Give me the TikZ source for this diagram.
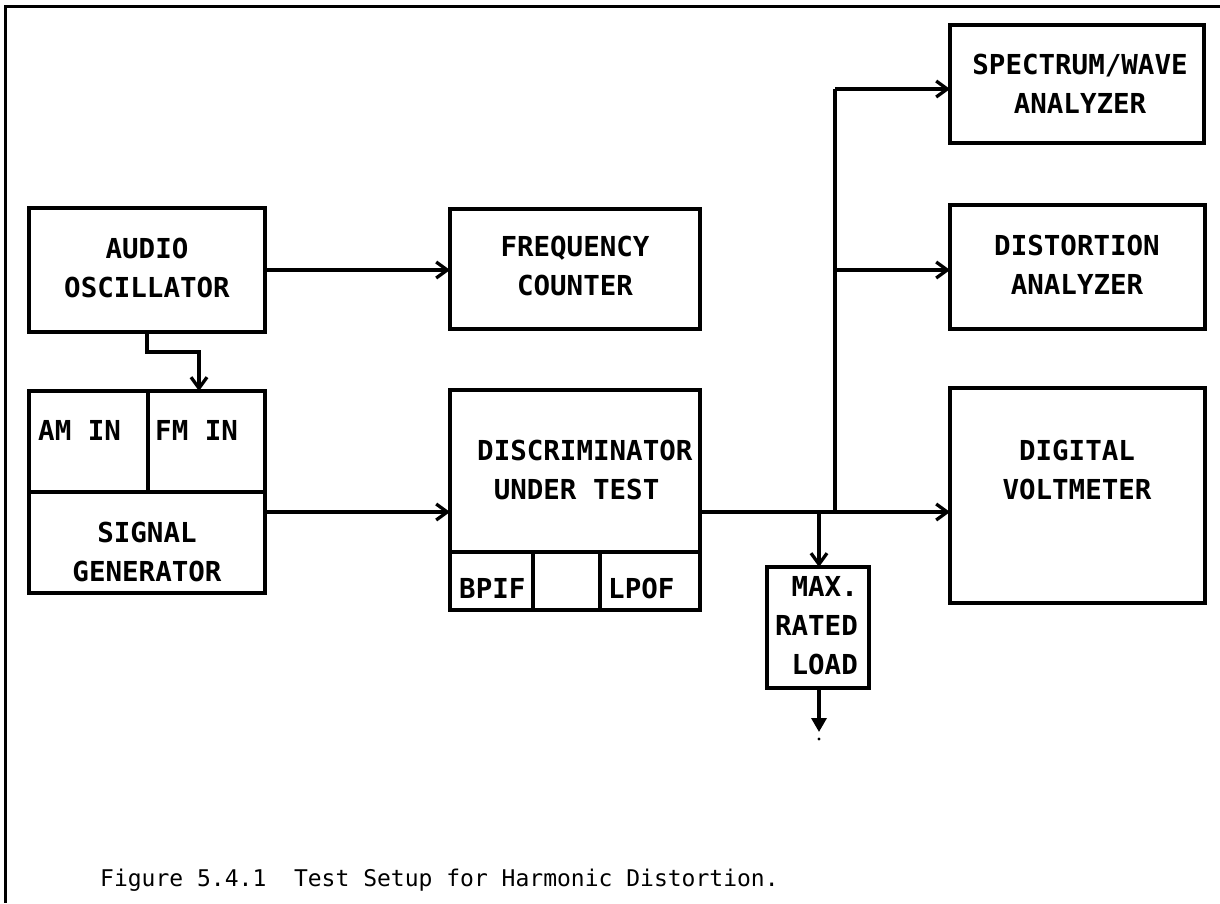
\documentclass[tikz,border=0pt]{standalone}
\usepackage{fontspec}
\newfontfamily\plotfont{DejaVu Sans Mono}
\newfontfamily\capfont{DejaVu Sans Mono}
\usetikzlibrary{arrows.meta}
\tikzset{
  box/.style={draw, rectangle, line width=3.3pt, inner sep=0pt, outer sep=0pt},
  lbl/.style={font=\plotfont\bfseries\fontsize{27.5}{39}\selectfont, align=center, inner sep=0pt},
  wire/.style={line width=3.3pt},
  arr/.style={wire, -{Straight Barb[length=11pt,width=16pt]}},
  tri/.style={wire, -{Triangle[length=14pt,width=15pt]}},
}
\begin{document}
\begin{tikzpicture}[x=1pt,y=-1pt]
\useasboundingbox (0,0) rectangle (1220,903);
% frame
\draw[line width=3pt] (1220,6) -- (5,6) -- (5,903);
% boxes
\node[box, minimum width=236pt, minimum height=124pt] (audio) at (147,270) {};
\node[box, minimum width=250pt, minimum height=120pt] (freq) at (575,269) {};
\node[box, minimum width=236pt, minimum height=202pt] (sg) at (147,492) {};
\node[box, minimum width=250pt, minimum height=220pt] (dut) at (575,500) {};
\node[box, minimum width=254pt, minimum height=118pt] (spec) at (1077,84) {};
\node[box, minimum width=255pt, minimum height=124pt] (dist) at (1077.5,267) {};
\node[box, minimum width=255pt, minimum height=215pt] (dvm) at (1077.5,495.5) {};
\node[box, minimum width=102pt, minimum height=121pt] (load) at (818,627.5) {};
% internal dividers
\coordinate (sgdiv) at (0,492);
\coordinate (sgmid) at (148,0);
\draw[wire] (sg.west |- sgdiv) -- (sg.east |- sgdiv);
\draw[wire] (sgmid |- sg.north) -- (sgmid |- sgdiv);
\coordinate (dutdiv) at (0,552);
\coordinate (dutv1) at (533,0);
\coordinate (dutv2) at (600,0);
\draw[wire] (dut.west |- dutdiv) -- (dut.east |- dutdiv);
\draw[wire] (dutv1 |- dutdiv) -- (dutv1 |- dut.south);
\draw[wire] (dutv2 |- dutdiv) -- (dutv2 |- dut.south);
% labels
\node[lbl] (audiot) at (147,268) {AUDIO\\OSCILLATOR};
\node[lbl] (freqt) at (575,266) {FREQUENCY\\COUNTER};
\node[lbl, anchor=west] (amin) at (38,430) {AM IN};
\node[lbl, anchor=west] (fmin) at (155,430) {FM IN};
\node[lbl] (sgt) at (147,552) {SIGNAL\\GENERATOR};
\node[lbl, anchor=west, align=left] (dutt) at (477,470) {DISCRIMINATOR\\\hphantom{D}UNDER TEST};
\node[lbl, anchor=west] (bpif) at (459,588) {BPIF};
\node[lbl, anchor=west] (lpof) at (608,588) {LPOF};
\node[lbl] (spect) at (1080,84) {SPECTRUM/WAVE\\ANALYZER};
\node[lbl] (distt) at (1077,265) {DISTORTION\\ANALYZER};
\node[lbl] (dvmt) at (1077,470) {DIGITAL\\VOLTMETER};
\node[lbl, anchor=east, align=right] (loadt) at (858,626) {MAX.\\RATED\\LOAD};
% connectors
\coordinate (row) at (0,512);
\coordinate (amc) at (199,352);
\coordinate (bust) at (835,89);
\coordinate (busd) at (835,270);
\coordinate (busb) at (835,512);
\coordinate (ldj) at (819,512);
\coordinate (gnd) at (819,732);
\draw[arr] (audio.east) -- (audio.east -| freq.west);
\draw[arr] (audio.south) |- (amc) -- (amc |- sg.north);
\draw[arr] (sg.east |- row) -- (dut.west |- row);
\draw[arr] (dut.east |- row) -- (dvm.west |- row);
\draw[wire] (busb) -- (bust);
\draw[arr] (bust) -- (spec.west |- bust);
\draw[arr] (busd) -- (dist.west |- busd);
\draw[arr] (ldj) -- (ldj |- load.north);
\draw[tri] (ldj |- load.south) -- (gnd);
\fill (819,739) circle (1.6pt);
% caption
\node[anchor=base west, font=\capfont\fontsize{23}{28}\selectfont, inner sep=0pt] (cap) at (100,886) {Figure 5.4.1\ \ Test Setup for Harmonic Distortion.};
\end{tikzpicture}
\end{document}
